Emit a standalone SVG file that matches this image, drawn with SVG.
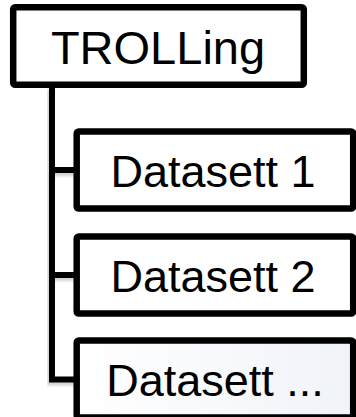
<svg xmlns="http://www.w3.org/2000/svg" width="356" height="417" viewBox="0 0 356 417">
  <defs>
    <style>
      .box { fill: #ffffff; stroke: #000000; stroke-width: 6.5; stroke-linejoin: round; }
      .conn { fill: none; stroke: #000000; stroke-width: 6; stroke-linejoin: miter; }
      .lbl { font-family: "Liberation Sans", Arial, sans-serif; fill: #000000; text-anchor: middle; }
    </style>
    <linearGradient id="g3" x1="0" y1="0" x2="1" y2="0">
      <stop offset="0" stop-color="#ffffff"/>
      <stop offset="1" stop-color="#f0f3f9"/>
    </linearGradient>
    <filter id="sh" x="-20%" y="-20%" width="140%" height="140%">
      <feGaussianBlur in="SourceAlpha" stdDeviation="1.5"/>
      <feOffset dx="-2" dy="3" result="b"/>
      <feComponentTransfer><feFuncA type="linear" slope="0.18"/></feComponentTransfer>
      <feMerge><feMergeNode/><feMergeNode in="SourceGraphic"/></feMerge>
    </filter>
  </defs>
  <g id="connectors" filter="url(#sh)">
    <path class="conn" d="M52 86 V379.5 H77"/>
    <path class="conn" d="M52 170 H77"/>
    <path class="conn" d="M52 275 H77"/>
  </g>
  <g id="node-trolling">
    <rect class="box" x="13.2" y="7.2" width="290.6" height="77.6" rx="2"/>
    <text class="lbl" x="158" y="63.5" font-size="47">TROLLing</text>
  </g>
  <g id="node-datasett1">
    <rect class="box" x="76.7" y="131.5" width="276.5" height="77" rx="2"/>
    <text class="lbl" x="213" y="186.5" font-size="45">Datasett 1</text>
  </g>
  <g id="node-datasett2">
    <rect class="box" x="76.7" y="236.5" width="276.5" height="77" rx="2"/>
    <text class="lbl" x="213" y="291.5" font-size="45">Datasett 2</text>
  </g>
  <g id="node-datasett3">
    <rect class="box" x="76.7" y="340.5" width="276.5" height="77" rx="2" style="fill:url(#g3)"/>
    <text class="lbl" x="215" y="395.5" font-size="45">Datasett ...</text>
  </g>
</svg>
